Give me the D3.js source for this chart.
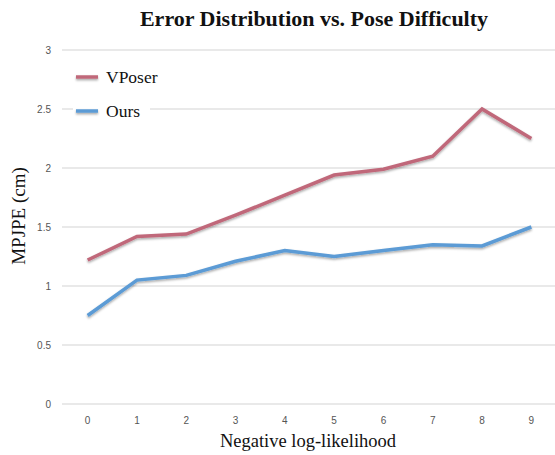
<!DOCTYPE html>
<html>
<head>
<meta charset="utf-8">
<script src="https://cdn.jsdelivr.net/npm/d3@7"></script>
<style>
body { margin: 0; background: #fff; }
</style>
</head>
<body>
<div id="chart"></div>
<script>
// chart values
var categories = ['0', '1', '2', '3', '4', '5', '6', '7', '8', '9'];
var vposer = [1.22, 1.42, 1.44, 1.60, 1.77, 1.94, 1.99, 2.10, 2.50, 2.25];
var ours = [0.75, 1.05, 1.09, 1.21, 1.30, 1.25, 1.30, 1.35, 1.34, 1.50];
var yTicks = [0, 0.5, 1, 1.5, 2, 2.5, 3];
var seriesNames = ['VPoser', 'Ours'];
var seriesColors = ['#c0687a', '#5b9bd5'];

var width = 555, height = 455;

var svg = d3.select('#chart')
    .append('svg')
    .attr('width', width)
    .attr('height', height);

// soft shadow under the lines (user space so flat lines keep it too)
var defs = svg.append('defs');
var shadow = defs.append('filter').attr('id', 'shadow')
    .attr('filterUnits', 'userSpaceOnUse')
    .attr('x', 0).attr('y', 0).attr('width', width).attr('height', height);
shadow.append('feDropShadow')
    .attr('dx', 0).attr('dy', 1.5).attr('stdDeviation', 1)
    .attr('flood-color', '#000').attr('flood-opacity', 0.35);

var x = d3.scaleBand().domain(categories).range([63, 556]);
var y = d3.scaleLinear().domain([0, 3]).range([404, 50]);

// gridlines
svg.append('g')
    .selectAll('line')
    .data(yTicks)
    .enter()
    .append('line')
    .attr('x1', 62)
    .attr('x2', 555)
    .attr('y1', function(d){ return y(d); })
    .attr('y2', function(d){ return y(d); })
    .attr('stroke', '#d4d4d4')
    .attr('stroke-width', 1.2);

// y tick labels
svg.append('g')
    .selectAll('text')
    .data(yTicks)
    .enter()
    .append('text')
    .attr('x', 51)
    .attr('y', function(d){ return y(d) + 3.5; })
    .attr('text-anchor', 'end')
    .attr('font-family', 'Liberation Sans, Arial, sans-serif')
    .attr('font-size', 10)
    .attr('fill', '#555')
    .text(function(d){ return d; });

// x tick labels
svg.append('g')
    .selectAll('text')
    .data(categories)
    .enter()
    .append('text')
    .attr('x', function(d){ return x(d) + x.bandwidth() / 2; })
    .attr('y', 424)
    .attr('text-anchor', 'middle')
    .attr('font-family', 'Liberation Sans, Arial, sans-serif')
    .attr('font-size', 10)
    .attr('fill', '#555')
    .text(function(d){ return d; });

var line = d3.line()
    .x(function(d, i){ return x(categories[i]) + x.bandwidth() / 2; })
    .y(function(d){ return y(d); });

[vposer, ours].forEach(function(s, k){
    svg.append('path')
        .datum(s)
        .attr('d', line)
        .attr('fill', 'none')
        .attr('stroke', seriesColors[k])
        .attr('stroke-width', 3.5)
        .attr('stroke-linejoin', 'miter')
        .attr('filter', 'url(#shadow)');
});

// legend (white box hides the gridline behind it)
var legend = svg.append('g');
legend.append('rect')
    .attr('x', 73).attr('y', 62)
    .attr('width', 77).attr('height', 62)
    .attr('fill', '#fff');
seriesNames.forEach(function(name, k){
    var ly = 77 + k * 34;
    legend.append('line')
        .attr('x1', 76).attr('x2', 98)
        .attr('y1', ly).attr('y2', ly)
        .attr('stroke', seriesColors[k])
        .attr('stroke-width', 3.5)
        .attr('filter', 'url(#shadow)');
    legend.append('text')
        .attr('x', 106)
        .attr('y', ly + 6)
        .attr('font-family', 'Liberation Serif, Times New Roman, serif')
        .attr('font-size', 17.5)
        .attr('fill', '#111')
        .text(name);
});

// title
svg.append('text')
    .attr('x', 314)
    .attr('y', 26)
    .attr('text-anchor', 'middle')
    .attr('font-family', 'Liberation Serif, Times New Roman, serif')
    .attr('font-weight', 'bold')
    .attr('font-size', 22)
    .attr('fill', '#111')
    .text('Error Distribution vs. Pose Difficulty');

// axis titles
svg.append('text')
    .attr('x', 308)
    .attr('y', 447)
    .attr('text-anchor', 'middle')
    .attr('font-family', 'Liberation Serif, Times New Roman, serif')
    .attr('font-size', 18.5)
    .attr('fill', '#111')
    .text('Negative log-likelihood');

svg.append('text')
    .attr('transform', 'translate(25,' + 216 + ') rotate(-90)')
    .attr('text-anchor', 'middle')
    .attr('font-family', 'Liberation Serif, Times New Roman, serif')
    .attr('font-size', 19)
    .attr('fill', '#111')
    .text('MPJPE (cm)');
</script>
</body>
</html>
